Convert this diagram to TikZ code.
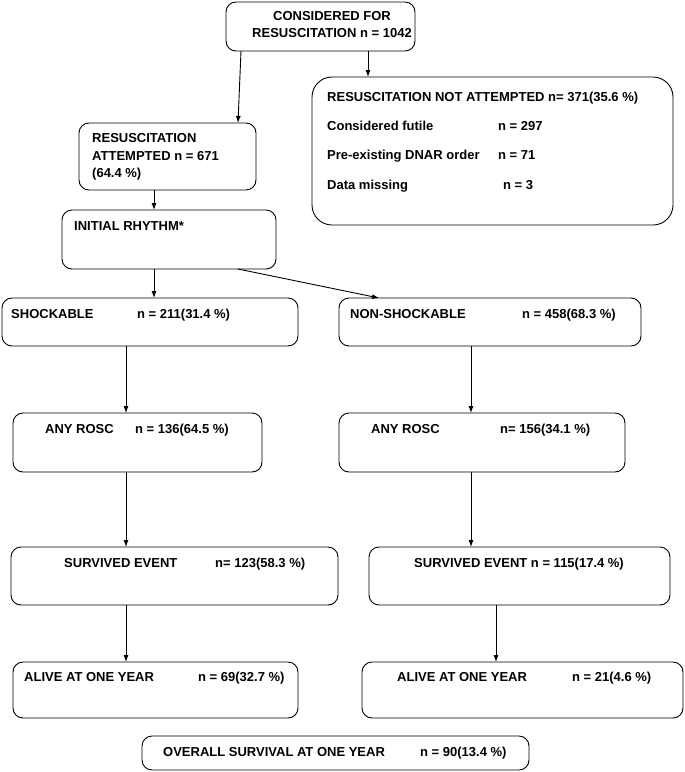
\documentclass[tikz,border=0pt]{standalone}
\usepackage{fontspec}
\setmainfont{Liberation Sans}
\usetikzlibrary{arrows.meta}
\begin{document}
\begin{tikzpicture}[x=1pt,y=-1pt,
 box/.style={draw,rounded corners=10pt,line width=0.9pt,inner sep=0pt,outer sep=0pt,anchor=north west},
 bigbox/.style={box,rounded corners=20pt},
 txt/.style={anchor=base west,inner sep=0pt,font=\fontsize{13}{17}\selectfont\bfseries},
 arr/.style={-{Latex[length=7pt,width=5pt]},line width=0.9pt}]
\useasboundingbox (0,0) rectangle (685,772);
% boxes
\node[box,minimum width=189pt,minimum height=49pt] (top) at (226,2) {};
\node[bigbox,minimum width=361pt,minimum height=148pt] (na) at (312,77) {};
\node[box,minimum width=177pt,minimum height=67pt] (att) at (79,123) {};
\node[box,minimum width=214pt,minimum height=59pt] (init) at (62,210) {};
\node[box,minimum width=296pt,minimum height=48pt] (sh) at (2,298) {};
\node[box,minimum width=302pt,minimum height=48pt] (ns) at (339,298) {};
\node[box,minimum width=249pt,minimum height=59pt] (rl) at (13,413) {};
\node[box,minimum width=286pt,minimum height=59pt] (rr) at (339,413) {};
\node[box,minimum width=327pt,minimum height=58pt] (sl) at (11,547) {};
\node[box,minimum width=301pt,minimum height=58pt] (sr) at (369,547) {};
\node[box,minimum width=285pt,minimum height=56pt] (al) at (13,662) {};
\node[box,minimum width=321pt,minimum height=56pt] (ar) at (362,662) {};
\node[box,minimum width=387pt,minimum height=34pt] (ov) at (142,736) {};
% texts
\node[inner sep=0pt,align=center,font=\fontsize{13}{17}\selectfont\bfseries] (ttop) at (332,25) {CONSIDERED FOR\\RESUSCITATION n = 1042};
\node[txt] (na1) at (327,101.7) {RESUSCITATION NOT ATTEMPTED n= 371(35.6 \%)};
\node[txt] (na2) at (327,130.7) {Considered futile};
\node[txt] (na2n) at (498,130.7) {n = 297};
\node[txt] (na3) at (327,159.7) {Pre-existing DNAR order};
\node[txt] (na3n) at (498,159.7) {n = 71};
\node[txt] (na4) at (327,189.7) {Data missing};
\node[txt] (na4n) at (503,189.7) {n = 3};
\node[txt] (at1) at (92,142.7) {RESUSCITATION};
\node[txt] (at2) at (92,160.7) {ATTEMPTED n = 671};
\node[txt] (at3) at (92,177.7) {(64.4 \%)};
\node[txt] (it) at (74,230.7) {INITIAL RHYTHM*};
\node[txt] (sht) at (11,318.7) {SHOCKABLE};
\node[txt] (shn) at (137,318.7) {n = 211(31.4 \%)};
\node[txt] (nst) at (350,318.7) {NON-SHOCKABLE};
\node[txt] (nsn) at (522,318.7) {n = 458(68.3 \%)};
\node[txt] (rlt) at (45,433.7) {ANY ROSC};
\node[txt] (rln) at (135,433.7) {n = 136(64.5 \%)};
\node[txt] (rrt) at (371,433.7) {ANY ROSC};
\node[txt] (rrn) at (500,433.7) {n= 156(34.1 \%)};
\node[txt] (slt) at (64,567.7) {SURVIVED EVENT};
\node[txt] (sln) at (215,567.7) {n= 123(58.3 \%)};
\node[txt] (srt) at (414,567.7) {SURVIVED EVENT n = 115(17.4 \%)};
\node[txt] (alt) at (24,681.7) {ALIVE AT ONE YEAR};
\node[txt] (aln) at (198,681.7) {n = 69(32.7 \%)};
\node[txt] (art) at (397,681.7) {ALIVE AT ONE YEAR};
\node[txt] (arn) at (572,681.7) {n = 21(4.6 \%)};
\node[txt] (ovt) at (163,756.7) {OVERALL SURVIVAL AT ONE YEAR};
\node[txt] (ovn) at (420,756.7) {n = 90(13.4 \%)};
% x positions for connectors
\coordinate (x241) at (241,0);
\coordinate (x238) at (238,0);
\coordinate (x368) at (368,0);
\coordinate (x154) at (154,0);
\coordinate (x379) at (379,0);
\coordinate (x126) at (126,0);
\coordinate (x471) at (471,0);
\coordinate (x496) at (496,0);
% connectors
\draw[arr] (top.south -| x241) -- (att.north -| x238);
\draw[arr] (top.south -| x368) -- (na.north -| x368);
\draw[arr] (att.south -| x154) -- (init.north -| x154);
\draw[arr] (init.south -| x154) -- (sh.north -| x154);
\draw[arr] (init.south -| x238) -- (ns.north -| x379);
\draw[arr] (sh.south -| x126) -- (rl.north -| x126);
\draw[arr] (ns.south -| x471) -- (rr.north -| x471);
\draw[arr] (rl.south -| x126) -- (sl.north -| x126);
\draw[arr] (rr.south -| x471) -- (sr.north -| x471);
\draw[arr] (sl.south -| x126) -- (al.north -| x126);
\draw[arr] (sr.south -| x496) -- (ar.north -| x496);
\end{tikzpicture}
\end{document}
